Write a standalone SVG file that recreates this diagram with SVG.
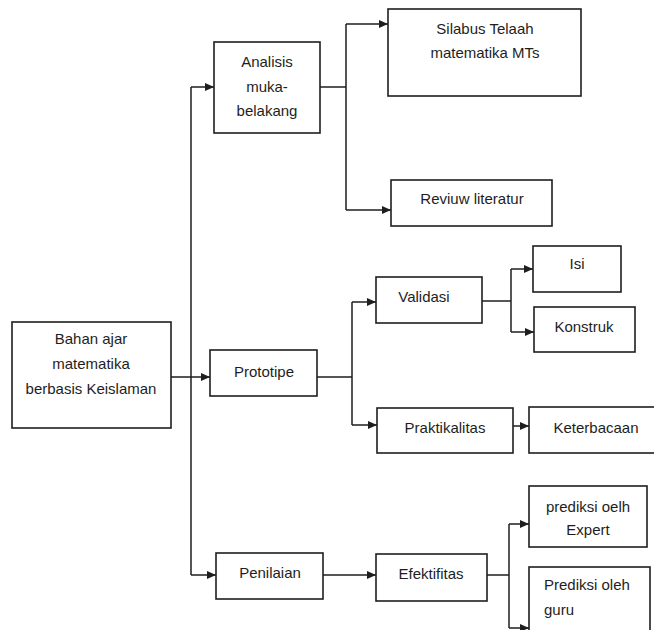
<svg xmlns="http://www.w3.org/2000/svg" width="654" height="630" viewBox="0 0 654 630">
<style>
.box{fill:#fff;stroke:#1e1e1e;stroke-width:1.6}
.t{font-family:"Liberation Sans",Arial,sans-serif;font-size:15px;fill:#1e1e1e;text-anchor:middle}
.tl{text-anchor:start}
.c{fill:none;stroke:#1e1e1e;stroke-width:1.5}
</style>
<defs>
<marker id="ah" markerUnits="userSpaceOnUse" markerWidth="10" markerHeight="9" refX="9" refY="4" orient="auto">
<path d="M0,0 L9,4 L0,8 z" fill="#1e1e1e"/>
</marker>
</defs>
<rect width="654" height="630" fill="#fff"/>
<g id="connectors">
<path class="c" d="M191,87 V575"/>
<path class="c" d="M191,87 H214" marker-end="url(#ah)"/>
<path class="c" d="M171,377 H210" marker-end="url(#ah)"/>
<path class="c" d="M191,575 H216" marker-end="url(#ah)"/>
<path class="c" d="M320,87 H346"/>
<path class="c" d="M346,24 V210"/>
<path class="c" d="M346,24 H388" marker-end="url(#ah)"/>
<path class="c" d="M346,210 H391" marker-end="url(#ah)"/>
<path class="c" d="M317,377 H352"/>
<path class="c" d="M352,302 V425"/>
<path class="c" d="M352,302 H376" marker-end="url(#ah)"/>
<path class="c" d="M352,425 H377" marker-end="url(#ah)"/>
<path class="c" d="M482,301 H511"/>
<path class="c" d="M511,269 V332"/>
<path class="c" d="M511,269 H533" marker-end="url(#ah)"/>
<path class="c" d="M511,332 H534" marker-end="url(#ah)"/>
<path class="c" d="M513,426 H529" marker-end="url(#ah)"/>
<path class="c" d="M323,575 H376" marker-end="url(#ah)"/>
<path class="c" d="M487,575 H509"/>
<path class="c" d="M509,524 V628"/>
<path class="c" d="M509,524 H529" marker-end="url(#ah)"/>
<path class="c" d="M509,628 H529" marker-end="url(#ah)"/>
</g>
<g id="bahan">
<rect class="box" x="12" y="322" width="159" height="106"/>
<text class="t" x="91" y="344">Bahan ajar</text>
<text class="t" x="91" y="369">matematika</text>
<text class="t" x="91" y="394">berbasis Keislaman</text>
</g>
<g id="analisis">
<rect class="box" x="214" y="42" width="106" height="91"/>
<text class="t" x="267" y="67">Analisis</text>
<text class="t" x="267" y="92">muka-</text>
<text class="t" x="267" y="116">belakang</text>
</g>
<g id="silabus">
<rect class="box" x="388" y="9" width="193" height="87"/>
<text class="t" x="485" y="34">Silabus Telaah</text>
<text class="t" x="485" y="58">matematika MTs</text>
</g>
<g id="reviuw">
<rect class="box" x="391" y="180" width="161" height="46"/>
<text class="t" x="472" y="204">Reviuw literatur</text>
</g>
<g id="prototipe">
<rect class="box" x="210" y="350" width="107" height="46"/>
<text class="t" x="264" y="377">Prototipe</text>
</g>
<g id="validasi">
<rect class="box" x="376" y="277" width="106" height="46"/>
<text class="t" x="424" y="302">Validasi</text>
</g>
<g id="isi">
<rect class="box" x="533" y="246" width="88" height="46"/>
<text class="t" x="577" y="269">Isi</text>
</g>
<g id="konstruk">
<rect class="box" x="534" y="307" width="101" height="45"/>
<text class="t" x="584" y="332">Konstruk</text>
</g>
<g id="praktikalitas">
<rect class="box" x="377" y="408" width="136" height="45"/>
<text class="t" x="445" y="433">Praktikalitas</text>
</g>
<g id="keterbacaan">
<rect class="box" x="529" y="407" width="135" height="46"/>
<text class="t" x="596" y="433">Keterbacaan</text>
</g>
<g id="penilaian">
<rect class="box" x="216" y="553" width="107" height="46"/>
<text class="t" x="270" y="578">Penilaian</text>
</g>
<g id="efektifitas">
<rect class="box" x="376" y="554" width="111" height="47"/>
<text class="t" x="431" y="579">Efektifitas</text>
</g>
<g id="expert">
<rect class="box" x="529" y="486" width="118" height="61"/>
<text class="t" x="588" y="512">prediksi oelh</text>
<text class="t" x="588" y="535">Expert</text>
</g>
<g id="guru">
<rect class="box" x="529" y="567" width="121" height="75"/>
<text class="t tl" x="544" y="590">Prediksi oleh</text>
<text class="t tl" x="544" y="615">guru</text>
</g>
</svg>
